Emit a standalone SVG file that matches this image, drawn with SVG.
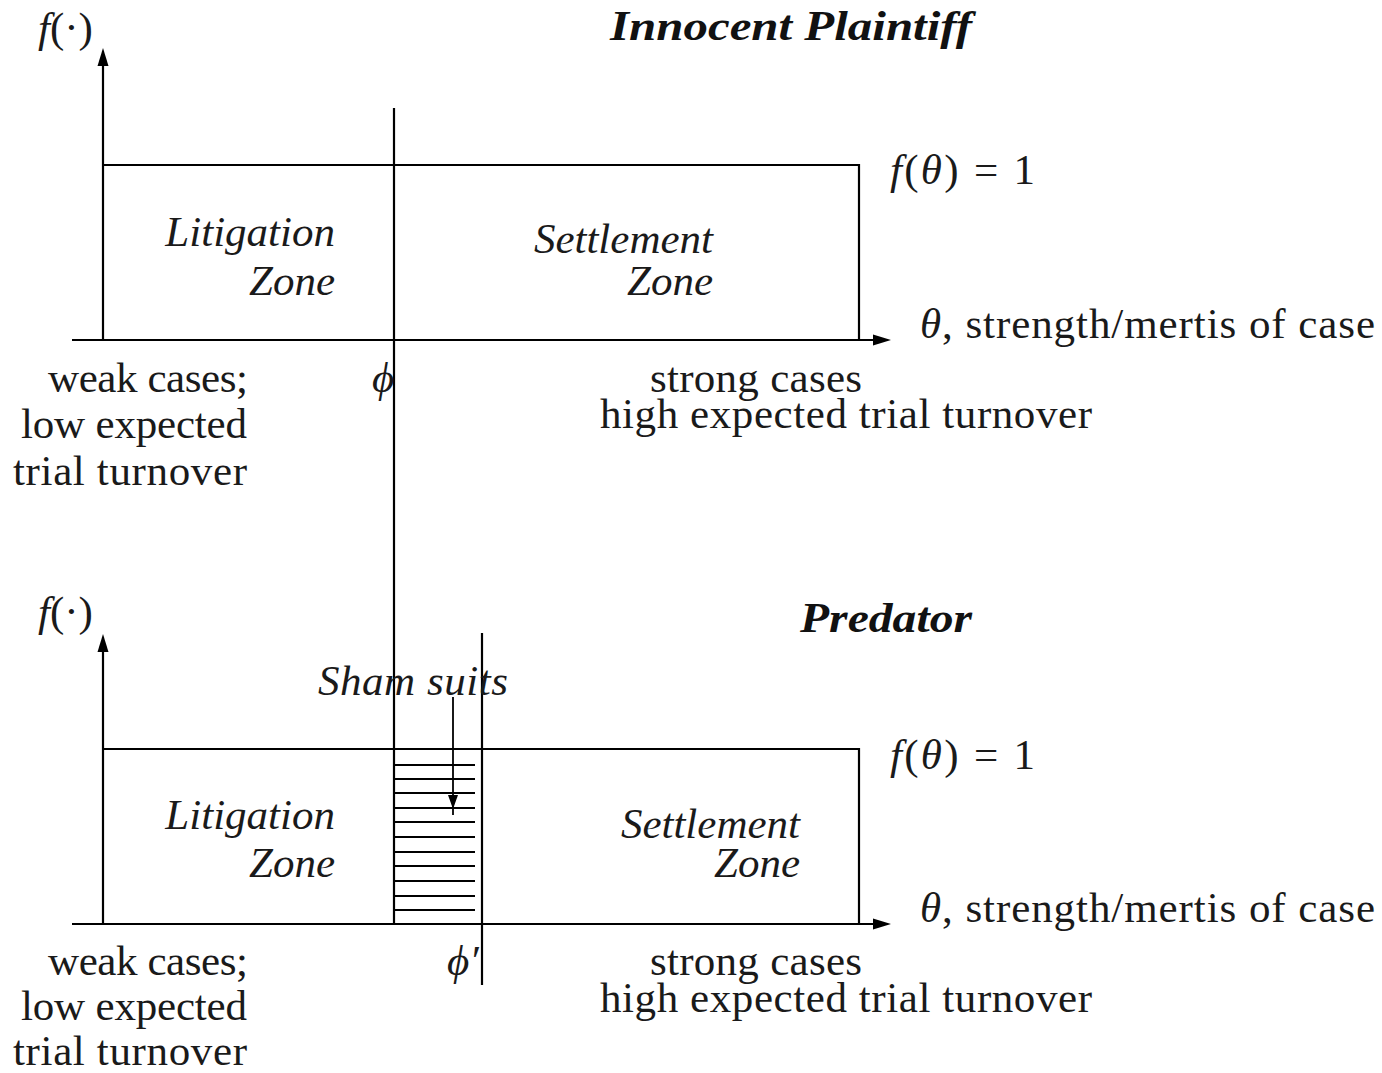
<svg xmlns="http://www.w3.org/2000/svg" width="1382" height="1073" viewBox="0 0 1382 1073">
<defs>
<style>
.ln{stroke:#000;stroke-width:2.2;fill:none}
.hl{stroke:#000;stroke-width:1.8;fill:none}
.ah{fill:#000;stroke:none}
.rm{font-family:"Liberation Serif","Times New Roman",serif;font-size:43px;fill:#1a1a1a}
.it{font-family:"Liberation Serif","Times New Roman",serif;font-size:43px;font-style:italic;fill:#1a1a1a}
.ti{font-family:"Liberation Serif","Times New Roman",serif;font-size:43px;font-style:italic;font-weight:bold;fill:#111}
.i{font-style:italic}
</style>
</defs>
<rect width="1382" height="1073" fill="#fff"/>

<g id="connectors">
  <!-- top panel -->
  <line class="ln" x1="103" y1="340" x2="103" y2="62"/>
  <polygon class="ah" points="103,48 97.5,66 108.5,66"/>
  <line class="ln" x1="72" y1="340" x2="876" y2="340"/>
  <polygon class="ah" points="891,340 873,334.5 873,345.5"/>
  <polyline class="ln" points="103,165 859,165 859,340"/>
  <line class="ln" x1="394" y1="108" x2="394" y2="924"/>
  <!-- bottom panel -->
  <line class="ln" x1="103" y1="924" x2="103" y2="648"/>
  <polygon class="ah" points="103,634 97.5,652 108.5,652"/>
  <line class="ln" x1="72" y1="924" x2="876" y2="924"/>
  <polygon class="ah" points="891,924 873,918.5 873,929.5"/>
  <polyline class="ln" points="103,749 859,749 859,924"/>
  <line class="ln" x1="482" y1="633" x2="482" y2="985"/>
  <!-- sham suits arrow -->
  <line class="hl" x1="453" y1="697" x2="453" y2="815"/>
  <polygon class="ah" points="453,809 448,795 458,795"/>
</g>

<g id="hatch">
  <line class="hl" x1="394" y1="765" x2="475" y2="765"/>
  <line class="hl" x1="394" y1="779" x2="475" y2="779"/>
  <line class="hl" x1="394" y1="793" x2="475" y2="793"/>
  <line class="hl" x1="394" y1="808" x2="475" y2="808"/>
  <line class="hl" x1="394" y1="822" x2="475" y2="822"/>
  <line class="hl" x1="394" y1="837" x2="475" y2="837"/>
  <line class="hl" x1="394" y1="852" x2="475" y2="852"/>
  <line class="hl" x1="394" y1="866" x2="475" y2="866"/>
  <line class="hl" x1="394" y1="881" x2="475" y2="881"/>
  <line class="hl" x1="394" y1="896" x2="475" y2="896"/>
  <line class="hl" x1="394" y1="910" x2="475" y2="910"/>
</g>

<g id="top-panel">
  <text class="rm" x="38" y="42"><tspan class="i">f</tspan>(·)</text>
  <text class="ti" x="610" y="40" textLength="362" lengthAdjust="spacingAndGlyphs">Innocent Plaintiff</text>
  <text class="rm" x="890" y="184" textLength="145"><tspan class="i">f</tspan>(<tspan class="i">θ</tspan>) = 1</text>
  <text class="it" x="335" y="246" text-anchor="end">Litigation</text>
  <text class="it" x="335" y="295" text-anchor="end">Zone</text>
  <text class="it" x="713" y="253" text-anchor="end">Settlement</text>
  <text class="it" x="713" y="295" text-anchor="end">Zone</text>
  <text class="rm" x="920" y="338" textLength="455"><tspan class="i">θ</tspan>, strength/mertis of case</text>
  <text class="rm" x="248" y="392" text-anchor="end" textLength="200">weak cases;</text>
  <text class="rm" x="247" y="438" text-anchor="end" textLength="226">low expected</text>
  <text class="rm" x="247" y="485" text-anchor="end" textLength="234">trial turnover</text>
  <text class="it" x="372" y="392" font-size="36">ϕ</text>
  <text class="rm" x="650" y="392" textLength="212">strong cases</text>
  <text class="rm" x="600" y="428" textLength="492">high expected trial turnover</text>
</g>

<g id="bottom-panel">
  <text class="rm" x="38" y="626"><tspan class="i">f</tspan>(·)</text>
  <text class="ti" x="800" y="632" textLength="172" lengthAdjust="spacingAndGlyphs">Predator</text>
  <text class="it" x="318" y="695" textLength="190">Sham suits</text>
  <text class="rm" x="890" y="769" textLength="145"><tspan class="i">f</tspan>(<tspan class="i">θ</tspan>) = 1</text>
  <text class="it" x="335" y="829" text-anchor="end">Litigation</text>
  <text class="it" x="335" y="877" text-anchor="end">Zone</text>
  <text class="it" x="800" y="838" text-anchor="end">Settlement</text>
  <text class="it" x="800" y="877" text-anchor="end">Zone</text>
  <text class="rm" x="920" y="922" textLength="455"><tspan class="i">θ</tspan>, strength/mertis of case</text>
  <text class="rm" x="248" y="975" text-anchor="end" textLength="200">weak cases;</text>
  <text class="rm" x="247" y="1020" text-anchor="end" textLength="226">low expected</text>
  <text class="rm" x="247" y="1065" text-anchor="end" textLength="234">trial turnover</text>
  <text class="it" x="447" y="975" font-size="36">ϕ′</text>
  <text class="rm" x="650" y="975" textLength="212">strong cases</text>
  <text class="rm" x="600" y="1012" textLength="492">high expected trial turnover</text>
</g>
</svg>
